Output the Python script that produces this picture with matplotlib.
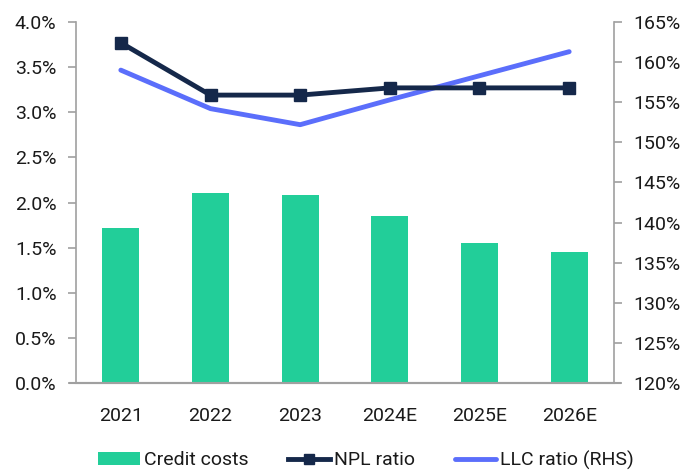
import matplotlib
matplotlib.use("Agg")
import matplotlib.pyplot as plt
from matplotlib.ticker import FuncFormatter, MultipleLocator

years = ["2021", "2022", "2023", "2024E", "2025E", "2026E"]
credit_costs = [1.72, 2.11, 2.08, 1.85, 1.55, 1.45]
npl_ratio = [3.77, 3.19, 3.19, 3.27, 3.27, 3.27]
llc_ratio = [159.0, 154.2, 152.2, 155.3, 158.3, 161.3]

plt.rcParams['font.family'] = ['Roboto', 'DejaVu Sans']
fig = plt.figure(figsize=(6.91, 4.70), dpi=100)
ax = fig.add_axes([76/691, 1-383/470, (614-76)/691, (383-22)/470])
ax2 = ax.twinx()

x = list(range(len(years)))
grey = '#a0a0a0'
txt = '#1a1a1a'
fs = 14
ax.bar(x, credit_costs, width=0.41, color='#22CE99', label='Credit costs', zorder=2)
l1, = ax.plot(x, npl_ratio, color='#15284A', lw=3.5, marker='s', markersize=9,
              label='NPL ratio', zorder=4)
l2, = ax2.plot(x, llc_ratio, color='#5B6EFB', lw=3.5, solid_capstyle='round',
               label='LLC ratio (RHS)', zorder=3)

ax.set_xlim(-0.5, 5.5)
ax.set_ylim(0, 4.0)
ax2.set_ylim(120, 165)
ax.yaxis.set_major_locator(MultipleLocator(0.5))
ax2.yaxis.set_major_locator(MultipleLocator(5))
ax.yaxis.set_major_formatter(FuncFormatter(lambda v, p: f"{v:.1f}%"))
ax2.yaxis.set_major_formatter(FuncFormatter(lambda v, p: f"{v:.0f}%"))
ax.set_xticks(x)
ax.set_xticklabels(years)

for a in (ax, ax2):
    a.spines['top'].set_visible(False)
    a.spines['left'].set_color(grey)
    a.spines['right'].set_color(grey)
    a.spines['bottom'].set_color(grey)
    a.tick_params(colors=txt, labelsize=fs)
    a.tick_params(axis='y', color=grey, length=6, width=1.2)
    a.spines['left'].set_linewidth(1.2)
    a.spines['right'].set_linewidth(1.2)
    a.spines['bottom'].set_linewidth(1.5)
ax.spines['right'].set_visible(False)
ax2.spines['left'].set_visible(False)
ax2.spines['bottom'].set_visible(False)
ax.tick_params(axis='x', length=0, pad=17)
ax.tick_params(axis='y', pad=8)
ax2.tick_params(axis='y', pad=8)
ax.set_zorder(ax2.get_zorder() + 1)
ax.patch.set_visible(False)

# extend baseline slightly beyond spines
ax.plot([-0.57, 5.57], [0, 0], color=grey, lw=1.5, clip_on=False, zorder=1)

handles = [ax.patches[0], l1, l2]
leg = fig.legend(handles, ['Credit costs', 'NPL ratio', 'LLC ratio (RHS)'],
                 loc='center', bbox_to_anchor=(366/691, 1-460/470), ncol=3, frameon=False,
                 fontsize=fs, handlelength=2.15, columnspacing=2.05, handletextpad=0.2,
                 markerscale=0.8, labelcolor=txt)

fig.savefig('out.png', dpi=100)
